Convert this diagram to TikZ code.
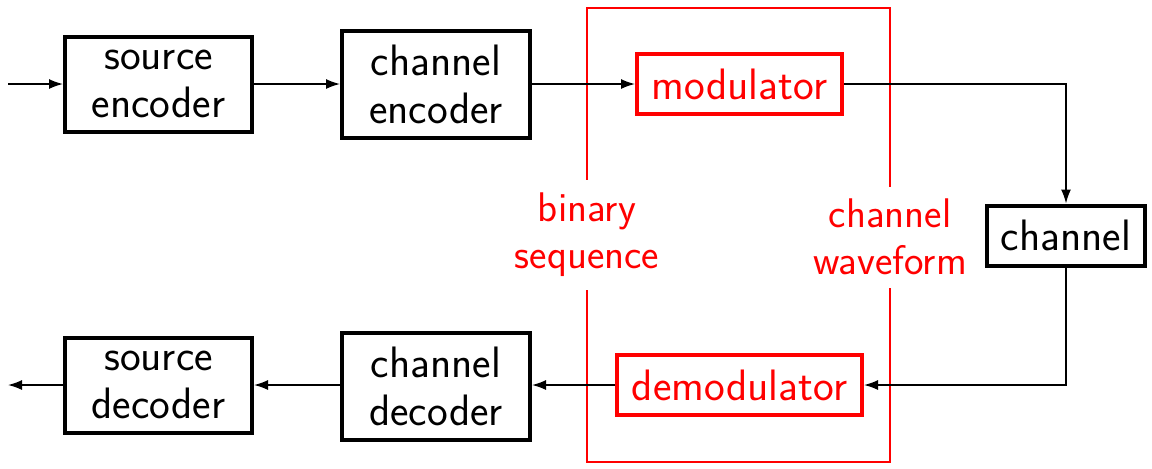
\documentclass[tikz,border=0pt]{standalone}
\usetikzlibrary{arrows.meta}
\begin{document}
\begin{tikzpicture}[x=0.5pt,y=-0.5pt,
  every node/.style={font=\sffamily\fontsize{22}{24}\selectfont, align=center},
  blk/.style={draw=black, line width=2pt, inner sep=1pt},
  rblk/.style={draw=red, text=red, line width=2pt, inner sep=1pt},
  lbl/.style={text=red, fill=white, inner sep=0pt, font=\sffamily\fontsize{20.7}{23.5}\selectfont},
  conn/.style={line width=0.75pt, -{Latex[length=7pt,width=5pt]}},
  frame/.style={draw=red, line width=1pt}]
\useasboundingbox (0,0) rectangle (1152,468);
% red frame
\draw[frame] (587,8) rectangle (890,462);
\node[lbl, minimum height=55pt, minimum width=76pt] (bs) at (587,235) {binary\\sequence};
\node[lbl, minimum height=50.5pt, minimum width=80pt] (cw) at (890,237) {channel\\waveform};
% blocks
\node[blk, minimum width=93.5pt, minimum height=47.5pt] (se) at (158.5,84) {source\\encoder};
\node[blk, minimum width=94pt, minimum height=53.5pt] (ce) at (436,84) {channel\\encoder};
\node[rblk, minimum width=102.5pt, minimum height=30pt] (mod) at (739.5,84) {modulator};
\node[blk, minimum width=79pt, minimum height=30pt] (ch) at (1066,235.5) {channel};
\node[rblk, minimum width=122.5pt, minimum height=30pt] (dem) at (739.5,385) {demodulator};
\node[blk, minimum width=94pt, minimum height=53.5pt] (cd) at (436,386.5) {channel\\decoder};
\node[blk, minimum width=93.5pt, minimum height=47.5pt] (sd) at (158.5,385) {source\\decoder};
\coordinate (in) at (8,84);
\coordinate (out) at (8,385);
% connectors
\draw[conn] (in) -- (se.west);
\draw[conn] (se.east) -- (ce.west);
\draw[conn] (ce.east) -- (mod.west);
\draw[conn] (mod.east) -| (ch.north);
\draw[conn] (ch.south) |- (dem.east);
\draw[conn] (dem.west) -- (cd.east |- dem.west);
\draw[conn] (cd.west |- sd.east) -- (sd.east);
\draw[conn] (sd.west) -- (out);
\end{tikzpicture}
\end{document}
